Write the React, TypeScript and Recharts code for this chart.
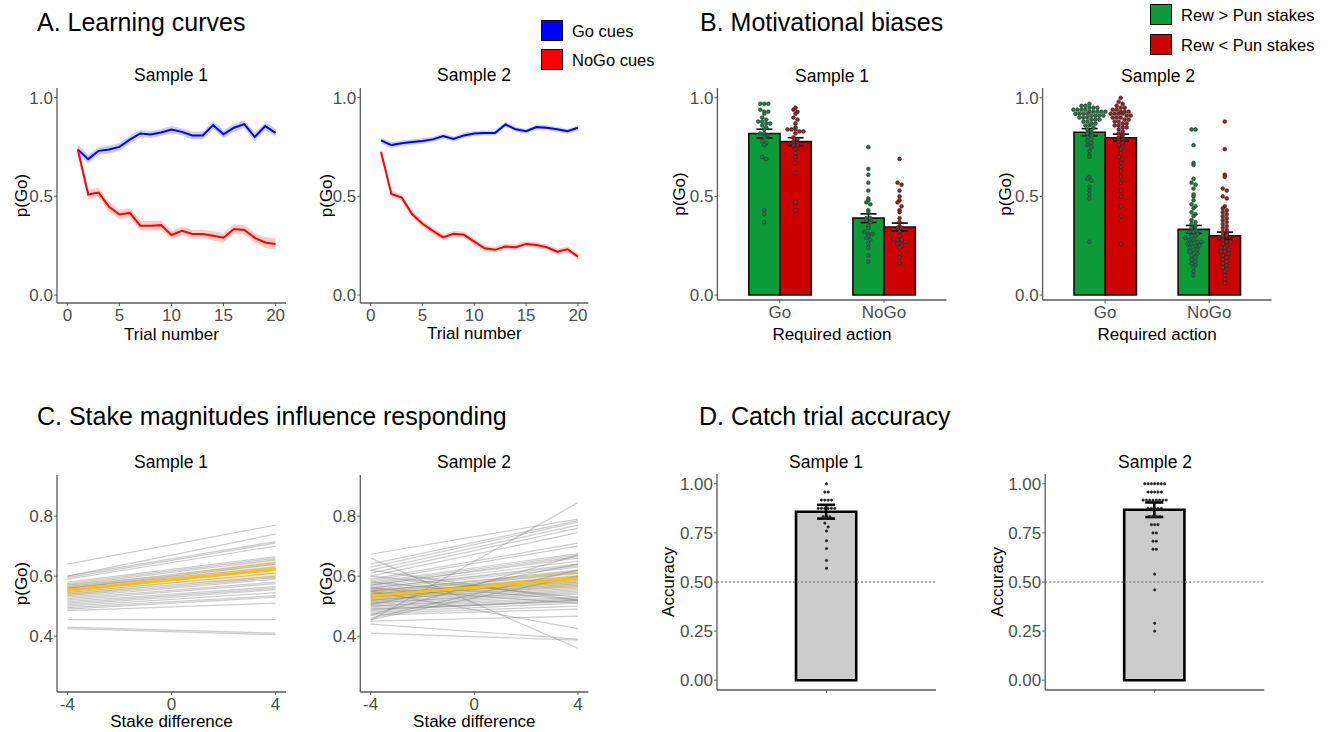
import { Area, Bar, ComposedChart, ErrorBar, Label, Line, ReferenceLine, Scatter, XAxis, YAxis } from 'recharts'

const FONT = '"Liberation Sans", Arial, Helvetica, sans-serif'

// ---- A. learning curves ----
const trials = [1, 2, 3, 4, 5, 6, 7, 8, 9, 10, 11, 12, 13, 14, 15, 16, 17, 18, 19, 20]
const s1Go = [0.737, 0.688, 0.73, 0.737, 0.75, 0.787, 0.818, 0.813, 0.823, 0.838, 0.826, 0.808, 0.808, 0.86, 0.814, 0.847, 0.865, 0.8, 0.855, 0.821]
const s1GoSe = [0.025, 0.022, 0.02, 0.02, 0.02, 0.02, 0.018, 0.018, 0.018, 0.018, 0.018, 0.02, 0.02, 0.02, 0.02, 0.02, 0.02, 0.022, 0.02, 0.02]
const s1NoGo = [0.737, 0.509, 0.519, 0.447, 0.408, 0.416, 0.351, 0.351, 0.354, 0.304, 0.325, 0.309, 0.309, 0.3, 0.29, 0.334, 0.33, 0.29, 0.266, 0.258]
const s1NoGoSe = [0.025, 0.024, 0.024, 0.024, 0.024, 0.024, 0.024, 0.024, 0.024, 0.022, 0.022, 0.022, 0.022, 0.024, 0.024, 0.024, 0.025, 0.026, 0.028, 0.03]
const s2Go = [0.783, 0.759, 0.768, 0.775, 0.78, 0.788, 0.805, 0.79, 0.808, 0.818, 0.82, 0.82, 0.864, 0.839, 0.829, 0.85, 0.847, 0.839, 0.829, 0.847]
const s2GoSe = [0.015, 0.014, 0.014, 0.014, 0.014, 0.013, 0.013, 0.013, 0.013, 0.012, 0.012, 0.012, 0.012, 0.012, 0.012, 0.012, 0.012, 0.012, 0.012, 0.013]
const s2NoGo = [0.724, 0.512, 0.493, 0.41, 0.361, 0.325, 0.292, 0.31, 0.305, 0.271, 0.237, 0.229, 0.246, 0.242, 0.259, 0.254, 0.242, 0.22, 0.232, 0.195]
const s2NoGoSe = [0.015, 0.016, 0.016, 0.016, 0.016, 0.016, 0.015, 0.015, 0.015, 0.015, 0.014, 0.014, 0.014, 0.014, 0.014, 0.014, 0.014, 0.014, 0.015, 0.016]

// ---- B. motivational biases ----
const actions = ['Go', 'NoGo']
const s1Rew = [0.819, 0.39]
const s1RewSe = [0.022, 0.022]
const s1Pun = [0.778, 0.345]
const s1PunSe = [0.02, 0.02]
const s2Rew = [0.826, 0.333]
const s2RewSe = [0.018, 0.02]
const s2Pun = [0.798, 0.301]
const s2PunSe = [0.018, 0.018]

const s1RewGoDots = [0.97, 0.97, 0.97, 0.94, 0.93, 0.93, 0.92, 0.9, 0.89, 0.88, 0.88, 0.87, 0.87, 0.86, 0.85, 0.84, 0.82, 0.82, 0.81, 0.8, 0.78, 0.77, 0.76, 0.7, 0.69, 0.43, 0.41, 0.37]
const s1PunGoDots = [0.95, 0.94, 0.93, 0.92, 0.9, 0.89, 0.87, 0.85, 0.84, 0.84, 0.84, 0.83, 0.83, 0.82, 0.8, 0.79, 0.78, 0.77, 0.76, 0.76, 0.74, 0.72, 0.7, 0.67, 0.62, 0.48, 0.47, 0.43]
const s1RewNoGoDots = [0.75, 0.64, 0.61, 0.57, 0.53, 0.49, 0.48, 0.47, 0.46, 0.43, 0.42, 0.39, 0.39, 0.38, 0.37, 0.35, 0.34, 0.32, 0.31, 0.31, 0.3, 0.29, 0.28, 0.26, 0.24, 0.2, 0.17]
const s1PunNoGoDots = [0.69, 0.57, 0.56, 0.53, 0.5, 0.48, 0.47, 0.45, 0.43, 0.42, 0.39, 0.37, 0.35, 0.34, 0.34, 0.32, 0.3, 0.28, 0.28, 0.28, 0.27, 0.26, 0.25, 0.24, 0.21, 0.19, 0.16]
const s2RewGoDots = [0.97, 0.96, 0.96, 0.95, 0.95, 0.95, 0.94, 0.94, 0.94, 0.94, 0.93, 0.93, 0.93, 0.93, 0.93, 0.92, 0.92, 0.92, 0.92, 0.91, 0.91, 0.91, 0.91, 0.9, 0.9, 0.9, 0.89, 0.89, 0.89, 0.88, 0.88, 0.87, 0.87, 0.86, 0.86, 0.85, 0.84, 0.83, 0.82, 0.81, 0.8, 0.79, 0.78, 0.77, 0.76, 0.75, 0.73, 0.71, 0.7, 0.6, 0.59, 0.58, 0.55, 0.53, 0.51, 0.49, 0.27]
const s2PunGoDots = [1.0, 0.98, 0.97, 0.96, 0.95, 0.95, 0.94, 0.94, 0.93, 0.93, 0.93, 0.92, 0.92, 0.92, 0.92, 0.91, 0.91, 0.9, 0.9, 0.9, 0.89, 0.89, 0.88, 0.88, 0.87, 0.87, 0.86, 0.86, 0.85, 0.85, 0.84, 0.83, 0.82, 0.81, 0.8, 0.79, 0.78, 0.77, 0.76, 0.75, 0.74, 0.72, 0.7, 0.69, 0.67, 0.65, 0.63, 0.6, 0.57, 0.53, 0.5, 0.45, 0.4, 0.26]
const s2RewNoGoDots = [0.84, 0.84, 0.76, 0.67, 0.66, 0.59, 0.57, 0.56, 0.54, 0.51, 0.5, 0.48, 0.46, 0.45, 0.44, 0.42, 0.41, 0.4, 0.38, 0.37, 0.36, 0.35, 0.34, 0.33, 0.32, 0.32, 0.31, 0.3, 0.3, 0.29, 0.28, 0.28, 0.27, 0.27, 0.26, 0.26, 0.25, 0.25, 0.24, 0.23, 0.23, 0.22, 0.21, 0.21, 0.2, 0.19, 0.18, 0.17, 0.16, 0.15, 0.14, 0.12, 0.1]
const s2PunNoGoDots = [0.88, 0.74, 0.61, 0.6, 0.54, 0.53, 0.5, 0.49, 0.45, 0.44, 0.43, 0.42, 0.41, 0.4, 0.39, 0.38, 0.37, 0.36, 0.35, 0.34, 0.33, 0.32, 0.31, 0.3, 0.3, 0.29, 0.28, 0.27, 0.27, 0.26, 0.25, 0.24, 0.24, 0.23, 0.22, 0.22, 0.21, 0.2, 0.19, 0.18, 0.17, 0.16, 0.15, 0.14, 0.13, 0.12, 0.1, 0.08, 0.06]

// ---- C. stake magnitudes: per-participant fitted p(Go) at stake difference -4 and +4 ----
const stakeEnds = [-4, 4]
const stakePoints = [-4, 0, 4]
const s1AtMinus4 = [0.64, 0.6, 0.6, 0.595, 0.59, 0.58, 0.575, 0.57, 0.565, 0.56, 0.56, 0.555, 0.55, 0.545, 0.54, 0.535, 0.53, 0.525, 0.52, 0.515, 0.51, 0.505, 0.5, 0.495, 0.49, 0.485, 0.455, 0.43, 0.425]
const s1AtPlus4 = [0.77, 0.74, 0.715, 0.71, 0.7, 0.665, 0.66, 0.655, 0.645, 0.64, 0.63, 0.625, 0.62, 0.61, 0.6, 0.595, 0.59, 0.58, 0.575, 0.565, 0.56, 0.555, 0.545, 0.535, 0.53, 0.51, 0.455, 0.41, 0.405]
const s2AtMinus4 = [0.453, 0.66, 0.673, 0.64, 0.63, 0.62, 0.61, 0.6, 0.59, 0.585, 0.58, 0.575, 0.57, 0.57, 0.565, 0.56, 0.56, 0.555, 0.55, 0.55, 0.545, 0.54, 0.54, 0.535, 0.53, 0.53, 0.525, 0.52, 0.52, 0.515, 0.51, 0.51, 0.505, 0.5, 0.5, 0.495, 0.49, 0.49, 0.485, 0.48, 0.475, 0.47, 0.46, 0.455, 0.45, 0.58, 0.56, 0.55, 0.44, 0.41, 0.6, 0.47, 0.62, 0.505]
const s2AtPlus4 = [0.845, 0.36, 0.79, 0.785, 0.78, 0.77, 0.76, 0.745, 0.71, 0.7, 0.675, 0.67, 0.665, 0.66, 0.65, 0.64, 0.635, 0.63, 0.62, 0.615, 0.61, 0.6, 0.595, 0.59, 0.585, 0.58, 0.575, 0.57, 0.565, 0.56, 0.555, 0.55, 0.545, 0.54, 0.53, 0.525, 0.52, 0.515, 0.52, 0.51, 0.5, 0.49, 0.62, 0.6, 0.467, 0.52, 0.51, 0.425, 0.39, 0.387, 0.53, 0.67, 0.52, 0.64]
const s1StakeMean = [0.553, 0.588, 0.623]
const s1StakeLo = [0.533, 0.572, 0.592]
const s1StakeHi = [0.575, 0.604, 0.655]
const s2StakeMean = [0.534, 0.563, 0.592]
const s2StakeLo = [0.512, 0.549, 0.563]
const s2StakeHi = [0.557, 0.577, 0.621]

// ---- D. catch trial accuracy ----
const accMean = [0.858, 0.868]
const accSe = [0.035, 0.037]
const s1AccDots = [1.0, 0.958, 0.958, 0.917, 0.917, 0.917, 0.917, 0.875, 0.875, 0.875, 0.875, 0.875, 0.875, 0.833, 0.833, 0.833, 0.8, 0.78, 0.76, 0.71, 0.67, 0.61, 0.57]
const s2AccDots = [1.0, 1.0, 1.0, 1.0, 1.0, 1.0, 1.0, 0.958, 0.958, 0.958, 0.958, 0.958, 0.917, 0.917, 0.917, 0.917, 0.917, 0.917, 0.917, 0.917, 0.875, 0.875, 0.875, 0.875, 0.875, 0.833, 0.833, 0.833, 0.833, 0.792, 0.792, 0.792, 0.75, 0.75, 0.708, 0.708, 0.667, 0.667, 0.54, 0.46, 0.29, 0.25]

// ---- shared styling ----
const tickStyle = { fill: '#4d4d4d', fontSize: 17, fontFamily: FONT }
const axisLine = { stroke: '#5a5a5a', strokeWidth: 1.3 }
const tickLine = { stroke: '#5a5a5a', strokeWidth: 1 }
const PAD = 8

type Box = { L: number; T: number; R: number; B: number; labelX: number; xh: number }

function place(b: Box) {
  const yw = b.L - b.labelX + 10
  return {
    yw,
    style: { position: 'absolute' as const, left: b.L - yw, top: b.T - PAD },
    width: b.R - b.L + yw + PAD,
    height: b.B - b.T + PAD + b.xh + PAD,
    margin: { top: PAD, right: PAD, bottom: PAD, left: 0 },
  }
}

function Txt({ x, y, size, children, left }: { x: number; y: number; size: number; children: string; left?: boolean }) {
  return (
    <div
      style={{
        position: 'absolute',
        left: x,
        top: y,
        transform: left ? 'translateY(-50%)' : 'translate(-50%, -50%)',
        fontSize: size,
        fontFamily: FONT,
        lineHeight: 1,
        whiteSpace: 'nowrap',
        color: '#000',
      }}
    >
      {children}
    </div>
  )
}

function Key({ x, y, color, text }: { x: number; y: number; color: string; text: string }) {
  return (
    <>
      <div style={{ position: 'absolute', left: x, top: y, width: 22, height: 21, background: color, border: '1.5px solid #000', boxSizing: 'border-box' }} />
      <Txt x={x + 31} y={y + 11} size={16.5} left>{text}</Txt>
    </>
  )
}

function yLabel(text: string) {
  return <Label value={text} angle={-90} position="insideLeft" offset={10} style={{ textAnchor: 'middle' }} fill="#000" fontSize={17} fontFamily={FONT} />
}

function xLabel(text: string) {
  return <Label value={text} position="insideBottom" offset={0} fill="#000" fontSize={17} fontFamily={FONT} />
}

// horizontal stacking like a dotplot: dots in the same bin sit side by side
function stack(values: number[], x: number, bin: number) {
  const counts = new Map<number, number>()
  values.forEach((v) => {
    const b = Math.round(v / bin)
    counts.set(b, (counts.get(b) || 0) + 1)
  })
  const seen = new Map<number, number>()
  return values.map((v) => {
    const b = Math.round(v / bin)
    const k = seen.get(b) || 0
    seen.set(b, k + 1)
    return { x, y: v, slot: k - ((counts.get(b) || 1) - 1) / 2 }
  })
}

function dotShape(fill: string, stroke: string, r: number, step: number) {
  return (p: any) => <circle cx={p.cx + p.payload.slot * step} cy={p.cy} r={r} fill={fill} stroke={stroke} strokeWidth={0.6} />
}

function CurvePanel({ box, go, goSe, nogo, nogoSe }: { box: Box; go: number[]; goSe: number[]; nogo: number[]; nogoSe: number[] }) {
  const rows = trials.map((t, i) => ({
    trial: t,
    go: go[i],
    goBand: [go[i] - goSe[i], go[i] + goSe[i]],
    nogo: nogo[i],
    nogoBand: [nogo[i] - nogoSe[i], nogo[i] + nogoSe[i]],
  }))
  const p = place(box)
  return (
    <div style={p.style}>
      <ComposedChart width={p.width} height={p.height} margin={p.margin} data={rows}>
        <XAxis dataKey="trial" type="number" domain={[-1, 21]} ticks={[0, 5, 10, 15, 20]} tick={tickStyle} tickSize={3} tickMargin={3} axisLine={axisLine} tickLine={tickLine} height={box.xh}>
          {xLabel('Trial number')}
        </XAxis>
        <YAxis type="number" domain={[-0.04, 1.048]} ticks={[0, 0.5, 1]} tickFormatter={(v: number) => v.toFixed(1)} tick={tickStyle} tickSize={3} tickMargin={1} axisLine={axisLine} tickLine={tickLine} width={p.yw} allowDataOverflow>
          {yLabel('p(Go)')}
        </YAxis>
        <Area dataKey="goBand" fill="#0000ff" fillOpacity={0.2} stroke="none" isAnimationActive={false} />
        <Area dataKey="nogoBand" fill="#ff0000" fillOpacity={0.2} stroke="none" isAnimationActive={false} />
        <Line dataKey="go" stroke="#0000ff" strokeWidth={2} dot={false} isAnimationActive={false} />
        <Line dataKey="nogo" stroke="#ff0000" strokeWidth={2} dot={false} isAnimationActive={false} />
      </ComposedChart>
    </div>
  )
}

function BiasPanel({ box, rew, rewSe, pun, punSe, rewDots, punDots }: { box: Box; rew: number[]; rewSe: number[]; pun: number[]; punSe: number[]; rewDots: number[][]; punDots: number[][] }) {
  const rows = actions.map((a, i) => ({ action: a, rew: rew[i], rewSe: rewSe[i], pun: pun[i], punSe: punSe[i] }))
  const p = place(box)
  const w = box.R - box.L
  const unit = w / 2.2
  const pad = (w - 2 * unit) / 2
  const green = rewDots.flatMap((vals, i) => stack(vals, i + 1 - 0.15, 0.02))
  const red = punDots.flatMap((vals, i) => stack(vals, i + 1 + 0.15, 0.02))
  return (
    <div style={p.style}>
      <ComposedChart width={p.width} height={p.height} margin={p.margin} data={rows} barGap={0}>
        <XAxis dataKey="action" type="category" padding={{ left: pad, right: pad }} tick={tickStyle} tickSize={3} tickMargin={3} axisLine={axisLine} tickLine={tickLine} height={box.xh}>
          {xLabel('Required action')}
        </XAxis>
        <XAxis xAxisId="dots" dataKey="x" type="number" domain={[0.4, 2.6]} hide />
        <YAxis type="number" domain={[-0.025, 1.05]} ticks={[0, 0.5, 1]} tickFormatter={(v: number) => v.toFixed(1)} tick={tickStyle} tickSize={3} tickMargin={1} axisLine={axisLine} tickLine={tickLine} width={p.yw} allowDataOverflow>
          {yLabel('p(Go)')}
        </YAxis>
        <Bar dataKey="rew" barSize={unit * 0.3} fill="#0c9a3b" stroke="#111" strokeWidth={1.6} isAnimationActive={false}>
          <ErrorBar dataKey="rewSe" width={8} stroke="#000" strokeWidth={1.6} />
        </Bar>
        <Bar dataKey="pun" barSize={unit * 0.3} fill="#cc0000" stroke="#111" strokeWidth={1.6} isAnimationActive={false}>
          <ErrorBar dataKey="punSe" width={8} stroke="#000" strokeWidth={1.6} />
        </Bar>
        <Scatter xAxisId="dots" data={green} dataKey="y" shape={dotShape('#2f6e49', '#1c4730', 1.9, 4)} isAnimationActive={false} />
        <Scatter xAxisId="dots" data={red} dataKey="y" shape={dotShape('#7e2e2e', '#4f1a1a', 1.9, 4)} isAnimationActive={false} />
      </ComposedChart>
    </div>
  )
}

function StakePanel({ box, atMinus4, atPlus4, mean, lo, hi }: { box: Box; atMinus4: number[]; atPlus4: number[]; mean: number[]; lo: number[]; hi: number[] }) {
  const p = place(box)
  const bandRows = stakePoints.map((x, i) => ({ x, band: [lo[i], hi[i]] }))
  const meanRows = stakePoints.map((x, i) => ({ x, y: mean[i] }))
  return (
    <div style={p.style}>
      <ComposedChart width={p.width} height={p.height} margin={p.margin}>
        <XAxis dataKey="x" type="number" domain={[-4.4, 4.4]} ticks={[-4, 0, 4]} tick={tickStyle} tickSize={3} tickMargin={3} axisLine={axisLine} tickLine={tickLine} height={box.xh}>
          {xLabel('Stake difference')}
        </XAxis>
        <YAxis type="number" domain={[0.214, 0.937]} ticks={[0.4, 0.6, 0.8]} tickFormatter={(v: number) => v.toFixed(1)} tick={tickStyle} tickSize={3} tickMargin={1} axisLine={axisLine} tickLine={tickLine} width={p.yw} allowDataOverflow>
          {yLabel('p(Go)')}
        </YAxis>
        {atMinus4.map((a, i) => (
          <Line
            key={i}
            data={[{ x: stakeEnds[0], y: a }, { x: stakeEnds[1], y: atPlus4[i] }]}
            dataKey="y"
            stroke="#7a7a7a"
            strokeOpacity={0.38}
            strokeWidth={1.2}
            dot={false}
            isAnimationActive={false}
          />
        ))}
        <Area data={bandRows} dataKey="band" fill="#e6c25a" fillOpacity={0.4} stroke="none" isAnimationActive={false} />
        <Line data={meanRows} dataKey="y" stroke="#ffc000" strokeWidth={2.6} dot={false} isAnimationActive={false} />
      </ComposedChart>
    </div>
  )
}

function CatchPanel({ box, idx, dots }: { box: Box; idx: number; dots: number[] }) {
  const p = place(box)
  const rows = [{ name: '', acc: accMean[idx], se: accSe[idx] }]
  const w = box.R - box.L
  const pts = stack(dots, 1, 0.0208)
  return (
    <div style={p.style}>
      <ComposedChart width={p.width} height={p.height} margin={p.margin} data={rows}>
        <XAxis dataKey="name" type="category" tickFormatter={() => ''} tick={tickStyle} tickSize={3} axisLine={axisLine} tickLine={tickLine} height={box.xh} />
        <XAxis xAxisId="dots" dataKey="x" type="number" domain={[0.4, 1.6]} hide />
        <YAxis type="number" domain={[-0.05, 1.05]} ticks={[0, 0.25, 0.5, 0.75, 1]} tickFormatter={(v: number) => v.toFixed(2)} tick={tickStyle} tickSize={3} tickMargin={1} axisLine={axisLine} tickLine={tickLine} width={p.yw} allowDataOverflow>
          {yLabel('Accuracy')}
        </YAxis>
        <Bar dataKey="acc" barSize={(w / 1.2) * 0.33} fill="#cccccc" stroke="#000" strokeWidth={2.6} isAnimationActive={false}>
          <ErrorBar dataKey="se" width={9} stroke="#000" strokeWidth={2.6} />
        </Bar>
        <ReferenceLine y={0.5} stroke="#8c8c8c" strokeWidth={1.3} strokeDasharray="2 2" />
        <Scatter xAxisId="dots" data={pts} dataKey="y" shape={dotShape('#222', '#222', 1.2, 3.3)} isAnimationActive={false} />
      </ComposedChart>
    </div>
  )
}

const boxA1: Box = { L: 57, T: 88, R: 286, B: 303, labelX: 21, xh: 36.5 }
const boxA2: Box = { L: 360, T: 88, R: 588, B: 303, labelX: 325.7, xh: 36.5 }
const boxB1: Box = { L: 717, T: 88, R: 946, B: 300, labelX: 678.6, xh: 40 }
const boxB2: Box = { L: 1043, T: 88, R: 1272, B: 300, labelX: 1005.4, xh: 40 }
const boxC1: Box = { L: 57, T: 475, R: 286, B: 692, labelX: 21, xh: 35 }
const boxC2: Box = { L: 360, T: 475, R: 588, B: 692, labelX: 325.7, xh: 35 }
const boxD1: Box = { L: 717, T: 474, R: 936, B: 690, labelX: 668, xh: 20 }
const boxD2: Box = { L: 1045, T: 474, R: 1264, B: 690, labelX: 996.8, xh: 20 }

export default function App() {
  return (
    <div style={{ position: 'absolute', left: 0, top: 0, width: 1331, height: 732, background: '#fff', overflow: 'hidden' }}>
      <Txt x={37} y={22} size={25} left>A. Learning curves</Txt>
      <Txt x={700} y={22} size={25} left>B. Motivational biases</Txt>
      <Txt x={37} y={416} size={25} left>C. Stake magnitudes influence responding</Txt>
      <Txt x={699} y={416} size={25} left>D. Catch trial accuracy</Txt>

      <Key x={541} y={20} color="#0000ff" text="Go cues" />
      <Key x={541} y={49} color="#ff0000" text="NoGo cues" />
      <Key x={1150} y={4} color="#0c9a3b" text="Rew > Pun stakes" />
      <Key x={1150} y={34} color="#cc0000" text="Rew < Pun stakes" />

      <Txt x={171} y={76} size={17.5}>Sample 1</Txt>
      <Txt x={474} y={76} size={17.5}>Sample 2</Txt>
      <Txt x={832} y={77} size={17.5}>Sample 1</Txt>
      <Txt x={1158} y={77} size={17.5}>Sample 2</Txt>
      <Txt x={171} y={463} size={17.5}>Sample 1</Txt>
      <Txt x={474} y={463} size={17.5}>Sample 2</Txt>
      <Txt x={826} y={463} size={17.5}>Sample 1</Txt>
      <Txt x={1155} y={463} size={17.5}>Sample 2</Txt>

      <CurvePanel box={boxA1} go={s1Go} goSe={s1GoSe} nogo={s1NoGo} nogoSe={s1NoGoSe} />
      <CurvePanel box={boxA2} go={s2Go} goSe={s2GoSe} nogo={s2NoGo} nogoSe={s2NoGoSe} />

      <BiasPanel box={boxB1} rew={s1Rew} rewSe={s1RewSe} pun={s1Pun} punSe={s1PunSe} rewDots={[s1RewGoDots, s1RewNoGoDots]} punDots={[s1PunGoDots, s1PunNoGoDots]} />
      <BiasPanel box={boxB2} rew={s2Rew} rewSe={s2RewSe} pun={s2Pun} punSe={s2PunSe} rewDots={[s2RewGoDots, s2RewNoGoDots]} punDots={[s2PunGoDots, s2PunNoGoDots]} />

      <StakePanel box={boxC1} atMinus4={s1AtMinus4} atPlus4={s1AtPlus4} mean={s1StakeMean} lo={s1StakeLo} hi={s1StakeHi} />
      <StakePanel box={boxC2} atMinus4={s2AtMinus4} atPlus4={s2AtPlus4} mean={s2StakeMean} lo={s2StakeLo} hi={s2StakeHi} />

      <CatchPanel box={boxD1} idx={0} dots={s1AccDots} />
      <CatchPanel box={boxD2} idx={1} dots={s2AccDots} />
    </div>
  )
}
